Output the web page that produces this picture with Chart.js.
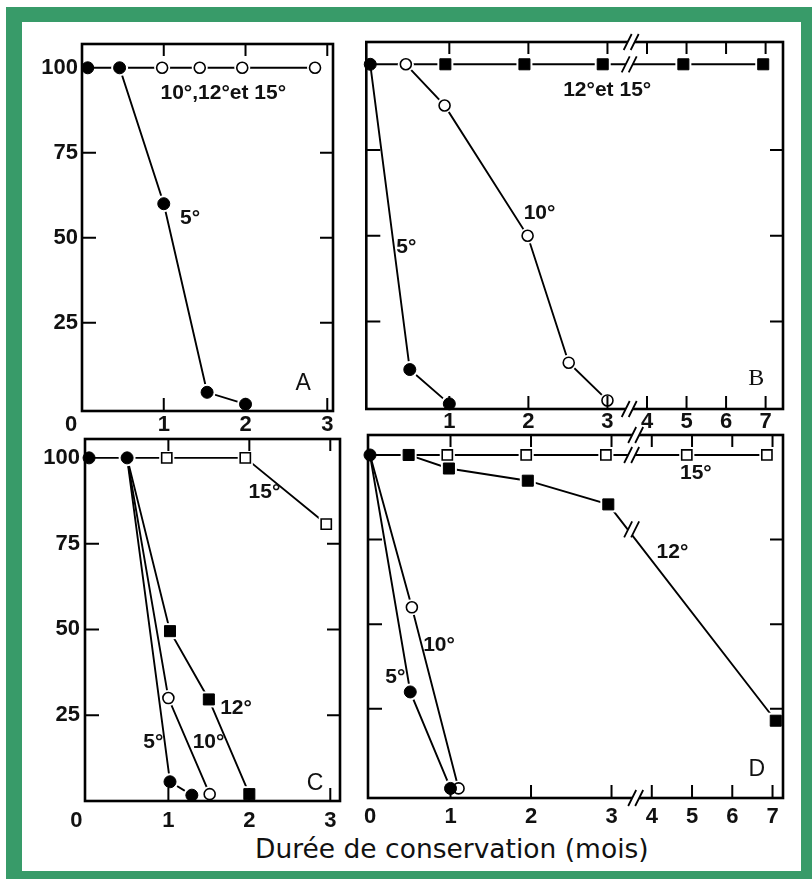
<!DOCTYPE html>
<html>
<head>
<meta charset="utf-8">
<script src="https://cdn.jsdelivr.net/npm/chart.js@4.4.0/dist/chart.umd.min.js"></script>
<style>
  html, body { margin: 0; padding: 0; background: #fff; }
  #page { position: relative; width: 812px; height: 879px; overflow: hidden; background: #fff; }
  #frame { position: absolute; left: 6px; top: 7px; width: 779px; height: 849px;
           border-style: solid; border-color: #389b69; border-width: 15px 16px 16px 16px; }
  canvas { position: absolute; }
  #title { position: absolute; left: 255px; top: 834px; font: 26.5px "DejaVu Sans"; line-height: 30px;
           color: #111; white-space: nowrap; }
</style>
</head>
<body>
<div id="page">
  <div id="frame"></div>
  <div id="title">Durée de conservation (mois)</div>
</div>
<script>
// ---- data (x in months, y in %) ----
// A
const aX5 = [0.07, 0.46, 1, 1.53, 2];
const aY5 = [100, 100, 60, 4.5, 1];
const aX10 = [0.46, 0.98, 1.44, 1.96, 2.85];
const aY10 = [100, 100, 100, 100, 100];
// B
const bX5 = [0, 0.5, 1];
const bY5 = [100, 11, 1];
const bX10 = [0.45, 0.94, 1.99, 2.51, 3];
const bY10 = [100, 88, 50, 13, 2];
const bX12 = [0, 0.95, 1.95, 2.94, 4.92, 6.94];
const bY12 = [100, 100, 100, 100, 100, 100];
// C
const cX5 = [0.02, 0.49, 1.02, 1.29];
const cY5 = [100, 100, 5.6, 1.7];
const cX10 = [0.49, 1, 1.51];
const cY10 = [100, 30, 2];
const cX12 = [0.49, 1.02, 1.5, 2];
const cY12 = [100, 49.5, 29.6, 2];
const cX15 = [0.49, 0.98, 1.95, 2.95];
const cY15 = [100, 100, 100, 80.7];
// D
const dX5 = [0, 0.5, 1];
const dY5 = [100, 30, 1.5];
const dX10 = [0, 0.52, 1.1];
const dY10 = [100, 55, 1.5];
const dX12 = [0.48, 0.98, 1.96, 2.96, 7.08];
const dY12 = [100, 96, 92.4, 85.4, 21.5];
const dX15 = [0, 0.48, 0.96, 1.94, 2.93, 4.87, 6.86];
const dY15 = [100, 100, 100, 100, 100, 100, 100];

const shortTicks = [0, 1, 2, 3];
const longTicks = [0, 1, 2, 3, 4, 5, 6, 7];
const yTicks = [25, 50, 75, 100];

// axis after 3 months is squeezed to half scale
const pos = m => (m <= 3 ? m : 3 + (m - 3) / 2);
const monthOf = p => (p <= 3 ? p : 3 + (p - 3) * 2);

const TICK_FONT = { family: 'Liberation Sans', size: 22, weight: 'bold' };
const NOTE_FONT = 'bold 21px "Liberation Sans"';

const STYLE = {
  dot:   { pointStyle: 'circle', radius: 6,   bg: '#000', bw: 1,   halo: 2.5 },
  ring:  { pointStyle: 'circle', radius: 5.5, bg: '#fff', bw: 1.6, halo: 2.5 },
  block: { pointStyle: 'rect',   radius: 7.8, bg: '#000', bw: 1,   halo: 3.5 },
  box:   { pointStyle: 'rect',   radius: 7.2, bg: '#fff', bw: 1.6, halo: 3.5 },
};

// one curve = line, white gap around the marks (as in the hand-drawn plate), then the marks
function series(xs, ys, kind, hidden = 0) {
  const st = STYLE[kind];
  const pts = () => xs.map((x, i) => ({ x: pos(x), y: ys[i] }));
  return {
    line: { data: pts(), clip: false, showLine: true, borderColor: '#000', borderWidth: 1.9, pointRadius: 0 },
    // no gap at the starting point on the left edge: all curves leave from it
    halo: { data: pts(), clip: false, showLine: false, pointStyle: st.pointStyle,
            pointRadius: xs.map((x, i) => (i < hidden || x < 0.1 ? 0 : st.radius + st.halo)),
            pointBackgroundColor: '#fff', pointBorderColor: '#fff', pointBorderWidth: 0 },
    marks: { data: pts(), clip: false, showLine: false, pointStyle: st.pointStyle,
             pointRadius: xs.map((_, i) => (i < hidden ? 0 : st.radius)),
             pointBackgroundColor: st.bg, pointBorderColor: '#000', pointBorderWidth: st.bw },
  };
}

function slashes(ctx, cx, cy) {
  const h = 8, w = 4, g = 3.5;
  ctx.fillStyle = '#fff';
  ctx.beginPath();
  ctx.moveTo(cx - g - w, cy + h); ctx.lineTo(cx - g + w, cy - h);
  ctx.lineTo(cx + g + w, cy - h); ctx.lineTo(cx + g - w, cy + h);
  ctx.closePath(); ctx.fill();
  ctx.lineWidth = 1.8;
  ctx.beginPath();
  ctx.moveTo(cx - g - w, cy + h); ctx.lineTo(cx - g + w, cy - h);
  ctx.moveTo(cx + g - w, cy + h); ctx.lineTo(cx + g + w, cy - h);
  ctx.stroke();
}

const deco = {
  id: 'deco',
  afterDatasetsDraw(chart, args, o) {
    const { ctx, chartArea: a, scales: { x, y } } = chart;
    ctx.save();
    ctx.strokeStyle = '#000';
    ctx.lineWidth = 2.6;
    ctx.strokeRect(a.left, a.top, a.right - a.left, a.bottom - a.top);
    ctx.lineWidth = 2;
    ctx.beginPath();
    o.xMarks.forEach(m => {
      const px = x.getPixelForValue(pos(m));
      ctx.moveTo(px, a.top); ctx.lineTo(px, a.top + 12);
      ctx.moveTo(px, a.bottom); ctx.lineTo(px, a.bottom - 13);
    });
    o.yMarks.forEach(v => {
      const py = y.getPixelForValue(v);
      ctx.moveTo(a.left, py); ctx.lineTo(a.left + 14, py);
      ctx.moveTo(a.right, py); ctx.lineTo(a.right - 13, py);
    });
    ctx.stroke();

    (o.breaks || []).forEach(b => {
      const px = x.getPixelForValue(pos(b.x));
      const py = b.y === 'top' ? a.top : b.y === 'bottom' ? a.bottom : y.getPixelForValue(b.y);
      slashes(ctx, px, py);
    });
    ctx.fillStyle = '#111';
    ctx.textBaseline = 'middle';
    ctx.textAlign = 'left';
    o.notes.forEach(n => {
      ctx.font = n.f || NOTE_FONT;
      ctx.fillText(n.t, x.getPixelForValue(pos(n.x)), y.getPixelForValue(n.y));
    });
    ctx.restore();
  }
};

function panel(cfg) {
  const [cl, ct, cw, ch] = cfg.canvas;
  const [L, T, R, B] = cfg.frame;
  const cv = document.createElement('canvas');
  cv.width = cw; cv.height = ch;
  cv.style.left = cl + 'px'; cv.style.top = ct + 'px';
  document.getElementById('page').appendChild(cv);

  // Chart.js paints dataset 0 last, so list in painting order and reverse
  const datasets = [
    ...cfg.curves.map(c => c.line),
    ...cfg.curves.map(c => c.halo),
    ...cfg.curves.map(c => c.marks),
  ].reverse();

  new Chart(cv, {
    type: 'scatter',
    data: { datasets },
    options: {
      responsive: false,
      animation: false,
      events: [],
      layout: { padding: { top: T - ct, right: cl + cw - R, left: 0, bottom: 0 } },
      plugins: { legend: { display: false }, tooltip: { enabled: false }, deco: cfg.deco },
      scales: {
        x: {
          type: 'linear', min: cfg.xRange[0], max: cfg.xRange[1],
          afterBuildTicks: s => { s.ticks = cfg.xLabels.map(m => ({ value: pos(m) })); },
          afterFit: s => { s.height = ct + ch - B; },
          grid: { display: false, drawTicks: false }, border: { display: false },
          ticks: {
            autoSkip: false, maxRotation: 0, padding: cfg.xPad, color: '#111', font: TICK_FONT,
            callback: v => (v === 0 && cfg.yLabels ? '0\u2002\u2002' : String(Math.round(monthOf(v))))
          }
        },
        y: {
          min: cfg.yRange[0], max: cfg.yRange[1],
          afterBuildTicks: s => { s.ticks = yTicks.map(v => ({ value: v })); },
          afterFit: s => { s.width = L - cl; },
          grid: { display: false, drawTicks: false }, border: { display: false },
          ticks: { display: !!cfg.yLabels, padding: cfg.yPad || 4, color: '#111', font: TICK_FONT }
        }
      }
    },
    plugins: [deco]
  });
}

// A
panel({
  canvas: [25, 14, 330, 427], frame: [82, 44, 333, 411], yLabels: true,
  xRange: [0, 3.07], yRange: [-1, 107], xLabels: shortTicks, xPad: 1, yPad: 4,
  curves: [series(aX10, aY10, 'ring', 1), series(aX5, aY5, 'dot')],
  deco: {
    xMarks: [1, 2, 3], yMarks: [25, 50, 75],
    notes: [
      { t: '10°,12°et 15°', x: 0.96, y: 92.5 },
      { t: '5°', x: 1.2, y: 55.7 },
      { t: 'A', x: 2.61, y: 7, f: '23px "Liberation Sans"' }
    ]
  }
});

// B
panel({
  canvas: [355, 12, 445, 429], frame: [363, 42, 783, 409], yLabels: false,
  xRange: [-0.05, 5.22], yRange: [-0.5, 106.5], xLabels: longTicks.slice(1), xPad: 0,
  curves: [series(bX12, bY12, 'block', 1), series(bX10, bY10, 'ring'), series(bX5, bY5, 'dot')],
  deco: {
    xMarks: longTicks.slice(1), yMarks: [25, 50, 75],
    breaks: [{ x: 3.6, y: 'top' }, { x: 3.55, y: 100 }, { x: 3.55, y: 'bottom' }],
    notes: [
      { t: '12°et 15°', x: 2.44, y: 92.5 },
      { t: '10°', x: 1.94, y: 56.6 },
      { t: '5°', x: 0.33, y: 46.8 },
      { t: 'B', x: 6.56, y: 8.4, f: '24px "Liberation Serif"' }
    ]
  }
});

// C
panel({
  canvas: [25, 410, 330, 422], frame: [85, 439, 340, 801], yLabels: true,
  xRange: [-0.03, 3.12], yRange: [0, 105.5], xLabels: shortTicks, xPad: 7, yPad: 5,
  curves: [
    series(cX15, cY15, 'box', 1), series(cX12, cY12, 'block', 1),
    series(cX10, cY10, 'ring', 1), series(cX5, cY5, 'dot')
  ],
  deco: {
    xMarks: [1, 2, 3], yMarks: [25, 50, 75],
    notes: [
      { t: '15°', x: 1.99, y: 90.1 },
      { t: '12°', x: 1.64, y: 27 },
      { t: '10°', x: 1.3, y: 17.2 },
      { t: '5°', x: 0.69, y: 17.2 },
      { t: 'C', x: 2.71, y: 5.1, f: '23px "Liberation Sans"' }
    ]
  }
});

// D
panel({
  canvas: [355, 405, 445, 427], frame: [368, 435, 783, 798], yLabels: false,
  xRange: [-0.025, 5.13], yRange: [-1.33, 105.9], xLabels: longTicks, xPad: 6,
  curves: [
    series(dX15, dY15, 'box', 2), series(dX12, dY12, 'block'),
    series(dX10, dY10, 'ring', 1), series(dX5, dY5, 'dot')
  ],
  deco: {
    xMarks: longTicks.slice(1), yMarks: [25, 50, 75],
    breaks: [{ x: 3.6, y: 'top' }, { x: 3.5, y: 100 }, { x: 3.5, y: 78 }, { x: 3.6, y: 'bottom' }],
    notes: [
      { t: '15°', x: 4.7, y: 94.6 },
      { t: '12°', x: 4.12, y: 71.4 },
      { t: '10°', x: 0.66, y: 43.9 },
      { t: '5°', x: 0.19, y: 34.5 },
      { t: 'D', x: 6.4, y: 6.9, f: '23px "Liberation Sans"' }
    ]
  }
});
</script>
</body>
</html>
